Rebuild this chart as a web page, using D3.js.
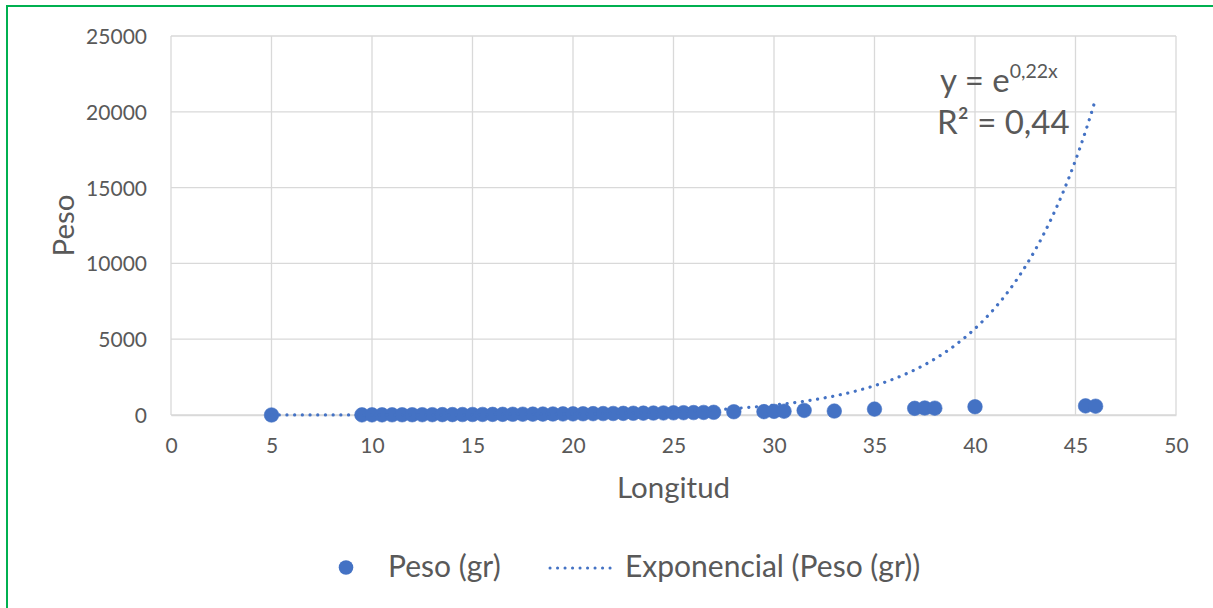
<!DOCTYPE html>
<html>
<head>
<meta charset="utf-8">
<script src="https://cdn.jsdelivr.net/npm/d3@7"></script>
<style>
  html, body { margin: 0; padding: 0; background: #fff; }
  svg { display: block; font-family: Lato, "Open Sans", sans-serif; }
</style>
</head>
<body>
<svg id="chart" width="1213" height="608"></svg>
<script>
// ---- data ----
const longitud = [5, 9.5, 10, 10.5, 11, 11.5, 12, 12.5, 13, 13.5, 14, 14.5, 15, 15.5, 16, 16.5, 17, 17.5, 18, 18.5,
  19, 19.5, 20, 20.5, 21, 21.5, 22, 22.5, 23, 23.5, 24, 24.5, 25, 25.5, 26, 26.5, 27,
  28, 29.5, 30, 30.5, 31.5, 33, 35, 37, 37.5, 38, 40, 45.5, 46];
const peso = [1, 8, 10, 11, 13, 15, 17, 19, 21, 24, 27, 30, 33, 36, 40, 44, 48, 52, 56, 61,
  66, 71, 76, 82, 88, 94, 100, 107, 114, 121, 128, 136, 144, 152, 160, 169, 178,
  215, 220, 240, 250, 300, 260, 390, 440, 460, 450, 545, 600, 580];
const xTicks = [0, 5, 10, 15, 20, 25, 30, 35, 40, 45, 50];
const yTicks = [0, 5000, 10000, 15000, 20000, 25000];
// exponential trendline y = a*e^(b*x) (as drawn), shown label rounded
const trendA = 1.0;
const trendB = 0.2162;
const trendRange = [5, 46];
const seriesName = "Peso (gr)";
const trendName = "Exponencial (Peso (gr))";
const xTitle = "Longitud";
const yTitle = "Peso";

// ---- layout ----
const svg = d3.select("#chart");
const color = "#4472C4";
const textColor = "#595959";
const gridColor = "#d9d9d9";

const x = d3.scaleLinear().domain([0, 50]).range([171, 1176]);
const y = d3.scaleLinear().domain([0, 25000]).range([415, 36]);

// outer chart border (green)
svg.append("rect")
  .attr("x", 7).attr("y", 6).attr("width", 1230).attr("height", 640)
  .attr("fill", "none").attr("stroke", "#00B050").attr("stroke-width", 2);

// gridlines
svg.append("g").selectAll("line").data(yTicks).join("line")
  .attr("x1", x(0)).attr("x2", x(50))
  .attr("y1", d => y(d)).attr("y2", d => y(d))
  .attr("stroke", gridColor).attr("stroke-width", 1.3);
svg.append("g").selectAll("line").data(xTicks).join("line")
  .attr("y1", y(0)).attr("y2", y(25000))
  .attr("x1", d => x(d)).attr("x2", d => x(d))
  .attr("stroke", gridColor).attr("stroke-width", 1.3);

// axes (labels only, via d3 axes)
const xAxis = d3.axisBottom(x).tickValues(xTicks).tickSize(0).tickPadding(0).tickFormat(d3.format("d"));
const gx = svg.append("g").attr("transform", `translate(0,${y(0)})`).call(xAxis);
gx.select(".domain").attr("stroke", gridColor).attr("stroke-width", 1.3);
gx.selectAll("text").attr("font-size", 21).attr("fill", textColor)
  .attr("font-family", "Lato").attr("dy", null).attr("y", 38);

const yAxis = d3.axisLeft(y).tickValues(yTicks).tickSize(0).tickPadding(0).tickFormat(d3.format("d"));
const gy = svg.append("g").attr("transform", `translate(${x(0)},0)`).call(yAxis);
gy.select(".domain").remove();
gy.selectAll("text").attr("font-size", 21).attr("fill", textColor)
  .attr("font-family", "Lato").attr("x", -24).attr("dy", "0.36em");

// axis titles
svg.append("text").text(xTitle)
  .attr("x", (x(0) + x(50)) / 2).attr("y", 498)
  .attr("text-anchor", "middle").attr("font-size", 29.5).attr("fill", textColor);
svg.append("text").text(yTitle)
  .attr("transform", `translate(74,${(y(0) + y(25000)) / 2}) rotate(-90)`)
  .attr("text-anchor", "middle").attr("font-size", 29.5).attr("fill", textColor);

// data points
const pts = longitud.map((l, i) => ({ x: l, y: peso[i] }));
svg.append("g").selectAll("circle").data(pts).join("circle")
  .attr("cx", d => x(d.x)).attr("cy", d => y(d.y)).attr("r", 7.3)
  .attr("fill", color).attr("stroke", color).attr("stroke-width", 0.6);

// trendline
const trendPts = d3.range(trendRange[0], trendRange[1] + 0.001, 0.1).map(v => ({ x: v, y: trendA * Math.exp(trendB * v) }));
const line = d3.line().x(d => x(d.x)).y(d => y(d.y)).curve(d3.curveMonotoneX);
svg.append("path").datum(trendPts).attr("d", line)
  .attr("fill", "none").attr("stroke", color).attr("stroke-width", 3.2)
  .attr("stroke-linecap", "round").attr("stroke-dasharray", "0.1 7.6");

// equation label
const eq = svg.append("text").attr("x", 940).attr("y", 92)
  .attr("font-size", 33).attr("fill", textColor);
eq.append("tspan").text("y = e");
eq.append("tspan").text("0,22x").attr("font-size", 19.5).attr("dy", -14);
svg.append("text").attr("x", 937).attr("y", 134)
  .attr("font-size", 33).attr("fill", textColor).text("R² = 0,44");

// legend
svg.append("circle").attr("cx", 346).attr("cy", 567.5).attr("r", 7.3).attr("fill", color);
svg.append("text").text(seriesName).attr("x", 388).attr("y", 577)
  .attr("font-size", 30).attr("fill", textColor);
svg.append("line").attr("x1", 550).attr("x2", 617).attr("y1", 568).attr("y2", 568)
  .attr("stroke", color).attr("stroke-width", 3).attr("stroke-linecap", "round")
  .attr("stroke-dasharray", "0.1 7.4");
svg.append("text").text(trendName).attr("x", 625).attr("y", 577)
  .attr("font-size", 30).attr("fill", textColor);
</script>
</body>
</html>
